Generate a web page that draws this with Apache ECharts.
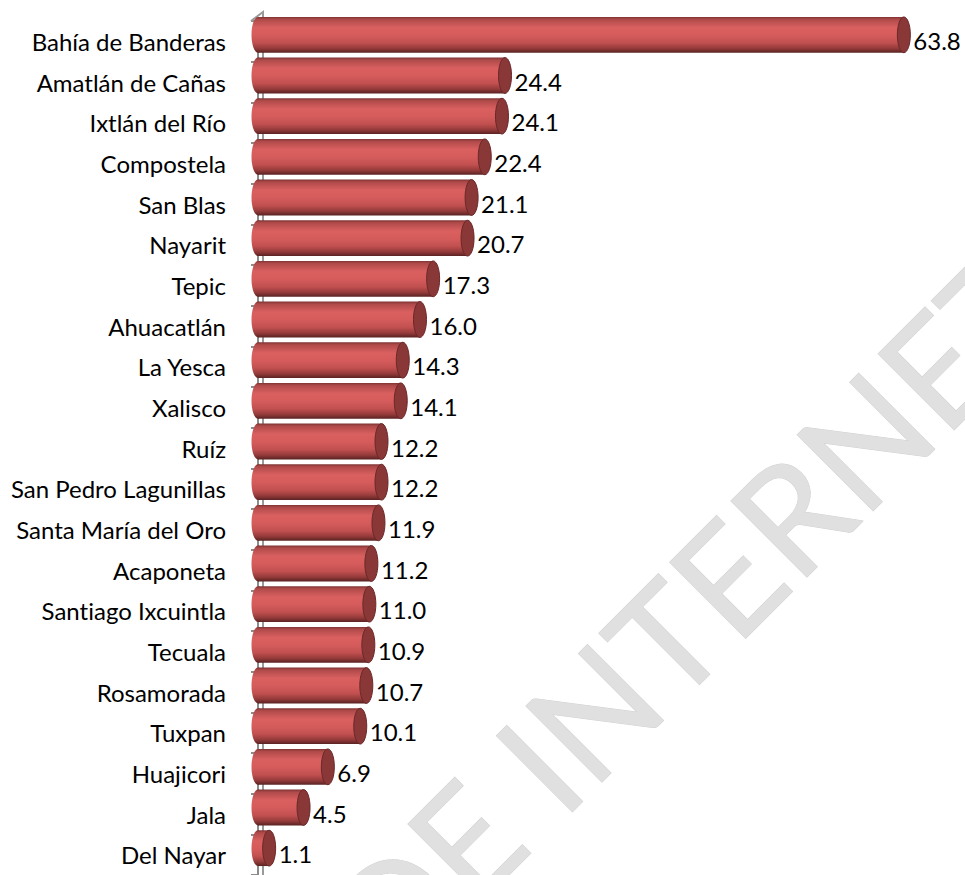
<!DOCTYPE html>
<html>
<head>
<meta charset="utf-8">
<script src="https://cdn.jsdelivr.net/npm/echarts@6/dist/echarts.min.js"></script>
<style>
  html, body { margin: 0; padding: 0; background: #ffffff; }
  #chart { width: 965px; height: 875px; }
  #chart text { font-variant-ligatures: none; }
</style>
</head>
<body>
<div id="chart"></div>
<script>
// Municipios de Nayarit, ordenados de mayor a menor
const categories = [
  'Bahía de Banderas', 'Amatlán de Cañas', 'Ixtlán del Río', 'Compostela',
  'San Blas', 'Nayarit', 'Tepic', 'Ahuacatlán', 'La Yesca', 'Xalisco',
  'Ruíz', 'San Pedro Lagunillas', 'Santa María del Oro', 'Acaponeta',
  'Santiago Ixcuintla', 'Tecuala', 'Rosamorada', 'Tuxpan', 'Huajicori',
  'Jala', 'Del Nayar'
];
const values = [
  63.8, 24.4, 24.1, 22.4, 21.1, 20.7, 17.3, 16.0, 14.3, 14.1,
  12.2, 12.2, 11.9, 11.2, 11.0, 10.9, 10.7, 10.1, 6.9, 4.5, 1.1
];
const watermarkText = 'DE INTERNET';

const FONT = 'Lato, "Open Sans", sans-serif';

const chart = echarts.init(document.getElementById('chart'), null, { renderer: 'svg' });

// Cylinder body shading (top to bottom)
const bodyGradient = new echarts.graphic.LinearGradient(0, 0, 0, 1, [
  { offset: 0.00, color: '#7e3434' },
  { offset: 0.07, color: '#b04a4a' },
  { offset: 0.30, color: '#da6060' },
  { offset: 0.50, color: '#d65c5c' },
  { offset: 0.72, color: '#c25050' },
  { offset: 0.88, color: '#943a3a' },
  { offset: 1.00, color: '#5a2222' }
]);

function renderCylinder(params, api) {
  const idx = api.value(1);
  const v = api.value(0);
  const start = api.coord([0, idx]);
  const end = api.coord([v, idx]);
  const band = api.size([0, 1])[1];
  const h = band * 0.88;
  const cy = start[1] - band * 0.16;
  const rx = 6.5;
  const ry = h / 2;
  return {
    type: 'group',
    children: [
      {
        type: 'ellipse',
        shape: { cx: start[0], cy: cy, rx: rx, ry: ry },
        style: { fill: bodyGradient }
      },
      {
        type: 'rect',
        shape: { x: start[0], y: cy - ry, width: end[0] - start[0], height: h },
        style: { fill: bodyGradient }
      },
      {
        type: 'ellipse',
        shape: { cx: end[0], cy: cy, rx: rx, ry: ry },
        style: { fill: '#8a3737', stroke: '#6a2828', lineWidth: 1 }
      },
      {
        type: 'text',
        x: end[0] + rx + 3,
        y: start[1] - 1,
        style: {
          text: v.toFixed(1),
          font: '24px ' + FONT,
          fill: '#000000',
          align: 'left',
          verticalAlign: 'middle'
        }
      }
    ]
  };
}

const seriesData = values.map((v, i) => [v, i]);

chart.setOption({
  backgroundColor: '#ffffff',
  animation: false,
  grid: { left: 258, top: 21, width: 658, height: 858 },
  xAxis: {
    type: 'value',
    min: 0,
    max: 65,
    show: false
  },
  yAxis: {
    type: 'category',
    data: categories,
    inverse: true,
    offset: 7,
    axisLine: { show: true, lineStyle: { color: '#8c8c8c', width: 2 } },
    axisTick: { show: true, length: 7, lineStyle: { color: '#8c8c8c', width: 2 } },
    axisLabel: {
      margin: 25,
      color: '#000000',
      fontFamily: 'Lato, "Open Sans", sans-serif',
      fontSize: 24
    },
    splitLine: { show: false }
  },
  series: [{
    type: 'custom',
    renderItem: renderCylinder,
    data: seriesData,
    encode: { x: 0, y: 1 },
    z: 3,
    clip: false
  }]
});

// Back wall edge of the 3D plot area and the watermark
const axisX = 251;
const gridTop = 21;
const depthX = 12, depthY = 9;
chart.setOption({
  graphic: [
    {
      type: 'text',
      x: 690,
      y: 612,
      rotation: Math.PI / 4,
      z: 0,
      silent: true,
      style: {
        text: watermarkText,
        font: '150px ' + FONT,
        fill: '#e0e0e0',
        stroke: '#d0d0d0',
        lineWidth: 1,
        align: 'center',
        verticalAlign: 'middle'
      }
    },
    {
      type: 'polyline',
      z: 1,
      silent: true,
      shape: { points: [[axisX, gridTop], [axisX + depthX, gridTop - depthY], [axisX + depthX, 879]] },
      style: { stroke: '#9a9a9a', lineWidth: 2, fill: null }
    }
  ]
});
</script>
</body>
</html>
